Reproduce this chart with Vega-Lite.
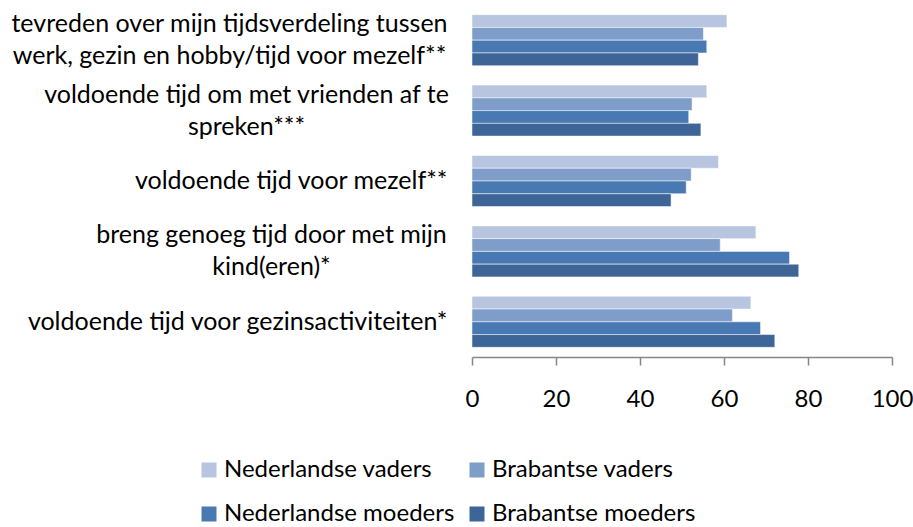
{
  "$schema": "https://vega.github.io/schema/vega-lite/v6.json",
  "autosize": "none",
  "padding": {"left": 472, "top": 5, "right": 21, "bottom": 170},
  "width": 420,
  "height": 352,
  "background": "white",
  "config": {"view": {"stroke": null}, "font": "Lato"},
  "data": {
    "values": [
      {"cat": "tevreden over mijn tijdsverdeling tussen\nwerk, gezin en hobby/tijd voor mezelf**", "groep": "Nederlandse vaders", "pct": 60.7},
      {"cat": "tevreden over mijn tijdsverdeling tussen\nwerk, gezin en hobby/tijd voor mezelf**", "groep": "Brabantse vaders", "pct": 55.1},
      {"cat": "tevreden over mijn tijdsverdeling tussen\nwerk, gezin en hobby/tijd voor mezelf**", "groep": "Nederlandse moeders", "pct": 55.9},
      {"cat": "tevreden over mijn tijdsverdeling tussen\nwerk, gezin en hobby/tijd voor mezelf**", "groep": "Brabantse moeders", "pct": 53.9},
      {"cat": "voldoende tijd om met vrienden af te\nspreken***", "groep": "Nederlandse vaders", "pct": 55.9},
      {"cat": "voldoende tijd om met vrienden af te\nspreken***", "groep": "Brabantse vaders", "pct": 52.4},
      {"cat": "voldoende tijd om met vrienden af te\nspreken***", "groep": "Nederlandse moeders", "pct": 51.6},
      {"cat": "voldoende tijd om met vrienden af te\nspreken***", "groep": "Brabantse moeders", "pct": 54.5},
      {"cat": "voldoende tijd voor mezelf**", "groep": "Nederlandse vaders", "pct": 58.7},
      {"cat": "voldoende tijd voor mezelf**", "groep": "Brabantse vaders", "pct": 52.2},
      {"cat": "voldoende tijd voor mezelf**", "groep": "Nederlandse moeders", "pct": 51.0},
      {"cat": "voldoende tijd voor mezelf**", "groep": "Brabantse moeders", "pct": 47.4},
      {"cat": "breng genoeg tijd door met mijn\nkind(eren)*", "groep": "Nederlandse vaders", "pct": 67.6},
      {"cat": "breng genoeg tijd door met mijn\nkind(eren)*", "groep": "Brabantse vaders", "pct": 59.1},
      {"cat": "breng genoeg tijd door met mijn\nkind(eren)*", "groep": "Nederlandse moeders", "pct": 75.6},
      {"cat": "breng genoeg tijd door met mijn\nkind(eren)*", "groep": "Brabantse moeders", "pct": 77.8},
      {"cat": "voldoende tijd voor gezinsactiviteiten*", "groep": "Nederlandse vaders", "pct": 66.4},
      {"cat": "voldoende tijd voor gezinsactiviteiten*", "groep": "Brabantse vaders", "pct": 62.0},
      {"cat": "voldoende tijd voor gezinsactiviteiten*", "groep": "Nederlandse moeders", "pct": 68.7},
      {"cat": "voldoende tijd voor gezinsactiviteiten*", "groep": "Brabantse moeders", "pct": 72.1}
    ]
  },
  "mark": {"type": "bar", "stroke": "#ffffff", "strokeWidth": 1, "strokeOpacity": 0.5},
  "encoding": {
    "y": {
      "field": "cat",
      "type": "nominal",
      "sort": null,
      "title": null,
      "scale": {"paddingInner": 0.275, "paddingOuter": 0.1375},
      "axis": {
        "domain": false,
        "ticks": false,
        "labelExpr": "split(datum.label, '\\n')",
        "labelFont": "Lato",
        "labelFontSize": 25,
        "labelColor": "#000000",
        "labelLineHeight": 32,
        "labelPadding": {
          "condition": [
            {"test": "indexof(datum.value, 'tevreden') >= 0", "value": 243},
            {"test": "indexof(datum.value, 'vrienden') >= 0", "value": 226},
            {"test": "indexof(datum.value, 'breng') >= 0", "value": 201}
          ],
          "value": 25
        },
        "labelAlign": {
          "condition": {"test": "indexof(datum.value, '\\n') >= 0", "value": "center"},
          "value": "right"
        },
        "labelOffset": {
          "condition": {"test": "indexof(datum.value, '\\n') >= 0", "value": -16},
          "value": 0
        },
        "labelLimit": 0,
        "labelBaseline": "middle"
      }
    },
    "yOffset": {
      "field": "groep",
      "type": "nominal",
      "sort": ["Nederlandse vaders", "Brabantse vaders", "Nederlandse moeders", "Brabantse moeders"],
      "scale": {"paddingInner": 0, "paddingOuter": 0}
    },
    "x": {
      "field": "pct",
      "type": "quantitative",
      "title": null,
      "scale": {"domain": [0, 100], "nice": false},
      "axis": {
        "values": [0, 20, 40, 60, 80, 100],
        "grid": false,
        "domainColor": "#868686",
        "domainWidth": 1.5,
        "tickColor": "#868686",
        "tickWidth": 1.5,
        "tickSize": 8,
        "labelFont": "Lato",
        "labelFontSize": 24,
        "labelColor": "#000000",
        "labelPadding": 22,
        "labelFlush": false
      }
    },
    "color": {
      "field": "groep",
      "type": "nominal",
      "sort": ["Nederlandse vaders", "Brabantse vaders", "Nederlandse moeders", "Brabantse moeders"],
      "scale": {"range": ["#B7C5E0", "#7F9DC9", "#4979B2", "#3D6597"]},
      "legend": {
        "title": null,
        "orient": "none",
        "legendX": -275,
        "legendY": 453,
        "columns": 2,
        "direction": "horizontal",
        "symbolType": "square",
        "symbolSize": 225,
        "symbolStrokeWidth": 0,
        "labelFont": "Lato",
        "labelFontSize": 24,
        "labelColor": "#000000",
        "labelOffset": 3,
        "labelLimit": 0,
        "columnPadding": 10,
        "rowPadding": 20
      }
    }
  }
}
